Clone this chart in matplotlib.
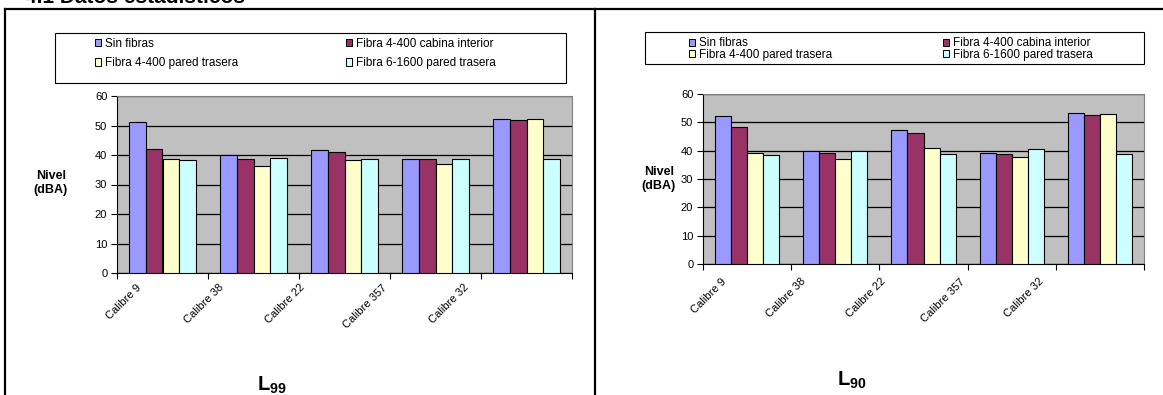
import matplotlib
matplotlib.use("Agg")
import matplotlib.pyplot as plt
from matplotlib.patches import Patch
from matplotlib.lines import Line2D
from matplotlib.transforms import ScaledTranslation
import numpy as np

# ---- data ----
categories = ["Calibre 9", "Calibre 38", "Calibre 22", "Calibre 357", "Calibre 32"]
series_names = ["Sin fibras", "Fibra 4-400 cabina interior",
                "Fibra 4-400 pared trasera", "Fibra 6-1600 pared trasera"]

l99_sin_fibras = [51.1, 40.0, 41.8, 38.8, 52.1]
l99_cabina_interior = [41.9, 38.8, 41.0, 38.8, 51.8]
l99_pared_trasera = [38.8, 36.2, 38.2, 36.8, 52.1]
l99_fibra_6_1600 = [38.4, 39.1, 38.8, 38.8, 38.8]

l90_sin_fibras = [52.4, 39.9, 47.3, 39.2, 53.2]
l90_cabina_interior = [48.3, 39.2, 46.4, 39.0, 52.6]
l90_pared_trasera = [39.2, 37.0, 41.1, 37.6, 53.0]
l90_fibra_6_1600 = [38.6, 39.9, 39.0, 40.7, 39.0]

y_ticks = [0, 10, 20, 30, 40, 50, 60]
series_colors = ["#9999FF", "#993366", "#FFFFCC", "#CCFFFF"]

# ---- style ----
plt.rcParams["font.family"] = ["Liberation Sans", "DejaVu Sans"]
plt.rcParams["mathtext.fontset"] = "custom"
plt.rcParams["mathtext.rm"] = "Liberation Sans"
plt.rcParams["mathtext.bf"] = "Liberation Sans:bold"

W, H = 1163, 395
fig = plt.figure(figsize=(W / 100, H / 100), dpi=100)


def fx(x):
    return x / W


def fy(y):
    return 1 - y / H


def panel(plot_px, series, legend_px, legend_cols_x, legend_mid_y, legend_gap,
          label_drop, ylabel_xy, title_text, title_xy):
    x0, y0, x1, y1 = plot_px
    ax = fig.add_axes([fx(x0), fy(y1), fx(x1) - fx(x0), (y1 - y0) / H])
    ax.set_facecolor("#C0C0C0")
    n = len(categories)
    k = len(series)
    width = 1 / (k + 1.5)
    centers = np.arange(n) + 0.5
    for i, (vals, col) in enumerate(zip(series, series_colors)):
        ax.bar(centers + (i - (k - 1) / 2) * width, vals, width,
               color=col, edgecolor="black", linewidth=0.8, zorder=3)
    ax.set_xlim(0, n)
    ax.set_ylim(y_ticks[0], y_ticks[-1])
    ax.set_yticks(y_ticks)
    ax.yaxis.grid(True, color="black", linewidth=0.9, zorder=1)
    ax.set_axisbelow(True)
    ax.set_xticks(np.arange(n + 1))
    ax.set_xticklabels([])
    ax.tick_params(axis="both", direction="out", length=4, width=0.8,
                   labelsize=8, color="black", pad=3)
    for s in ("top", "right"):
        ax.spines[s].set_color("#808080")
        ax.spines[s].set_linewidth(0.8)
    for s in ("left", "bottom"):
        ax.spines[s].set_color("black")
        ax.spines[s].set_linewidth(0.8)

    # rotated category labels
    trans = ax.get_xaxis_transform() + ScaledTranslation(0, -label_drop / 100,
                                                         fig.dpi_scale_trans)
    for i, lab in enumerate(categories):
        ax.text(0.25 + 0.9 * i, 0, lab, transform=trans, rotation=45,
                rotation_mode="anchor", ha="right", va="center", fontsize=8)

    # legend box
    lx0, ly0, lx1, ly1 = legend_px
    fig.patches.append(plt.Rectangle((fx(lx0), fy(ly1)), fx(lx1) - fx(lx0), (ly1 - ly0) / H,
                                     transform=fig.transFigure, fill=False,
                                     edgecolor="black", linewidth=0.8))
    for c, cx in enumerate(legend_cols_x):
        idx = [c, c + 2]
        handles = [Patch(facecolor=series_colors[j], edgecolor="black", linewidth=0.7)
                   for j in idx]
        fig.legend(handles, [series_names[j] for j in idx], loc="center left",
                   bbox_to_anchor=(fx(cx), fy(legend_mid_y)), frameon=False,
                   fontsize=8.5, handlelength=0.55, handleheight=0.55,
                   handletextpad=0.3, borderpad=0, borderaxespad=0,
                   labelspacing=legend_gap)

    fig.text(fx(ylabel_xy[0]), fy(ylabel_xy[1]), "Nivel\n(dBA)", ha="center",
             va="center", fontsize=9, fontweight="bold", linespacing=1.3)
    fig.text(fx(title_xy[0]), fy(title_xy[1]), title_text, ha="left",
             va="baseline", fontsize=14.5)
    return ax


panel((117, 96, 572, 273),
      [l99_sin_fibras, l99_cabina_interior, l99_pared_trasera, l99_fibra_6_1600],
      (55, 33, 566, 83), (95, 346), 53.5, 0.62, 13,
      (51, 183), r"$\mathbf{L}_{\mathbf{99}}$", (257, 391))

panel((703, 94, 1144, 264),
      [l90_sin_fibras, l90_cabina_interior, l90_pared_trasera, l90_fibra_6_1600],
      (645, 32, 1144, 64), (689, 943), 49, -0.05, 16,
      (659, 179), r"$\mathbf{L}_{\mathbf{90}}$", (837, 386))

# page frame around the two charts
lw = 1.6
fig.add_artist(Line2D([fx(5), fx(5)], [0, fy(9)], transform=fig.transFigure,
                      color="black", linewidth=lw))
fig.add_artist(Line2D([fx(5), 1], [fy(9), fy(9)], transform=fig.transFigure,
                      color="black", linewidth=lw))
fig.add_artist(Line2D([fx(595), fx(595)], [0, fy(9)], transform=fig.transFigure,
                      color="black", linewidth=lw))

# section heading above the frame
fig.text(fx(25), fy(3), "4.1 Datos estadísticos", ha="left", va="baseline",
         fontsize=15, fontweight="bold")

fig.savefig("out.png", dpi=100, facecolor="white")
